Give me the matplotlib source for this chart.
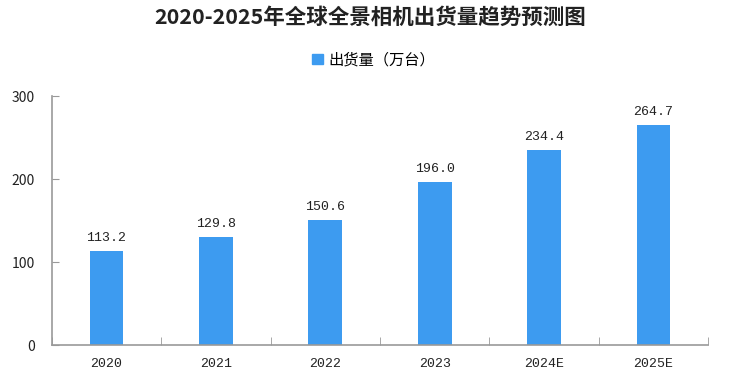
import matplotlib
matplotlib.use("Agg")
import matplotlib.pyplot as plt
from matplotlib.patches import Patch
import numpy as np

plt.rcParams['font.family'] = ['Noto Sans CJK SC', 'DejaVu Sans']

categories = ["2020", "2021", "2022", "2023", "2024E", "2025E"]
values = [113.2, 129.8, 150.6, 196.0, 234.4, 264.7]
labels = ["113.2", "129.8", "150.6", "196.0", "234.4", "264.7"]
title = "2020-2025年全球全景相机出货量趋势预测图"
series_name = "出货量（万台）"

color = "#3D9BF0"
fig = plt.figure(figsize=(7.4, 3.79), dpi=100)
ax = fig.add_axes([0.070, 0.0897, 0.887, 0.657])

x = np.arange(len(categories))
ax.bar(x, values, width=0.31, color=color, zorder=2)
for xi, v, lab in zip(x, values, labels):
    ax.text(xi, v + 9, lab, ha='center', va='bottom', fontsize=9.5,
            family=['Liberation Mono', 'DejaVu Sans'], color='#222222')

ax.set_xlim(-0.5, len(categories) - 0.5)
ax.set_ylim(0, 300)
ax.set_yticks([0, 100, 200, 300])
ax.set_xticks(x)
ax.set_xticklabels(categories, family=['Liberation Mono', 'DejaVu Sans'])
ax.set_xticks(np.arange(-0.5, len(categories)), minor=True)
ax.tick_params(axis='x', which='major', length=0, pad=9, labelsize=9.5, colors='#222222')
ax.tick_params(axis='x', which='minor', length=6, direction='in', color='#999999')
ax.tick_params(axis='y', length=5, direction='in', color='#999999', labelsize=10,
               labelcolor='#222222', pad=12)
for s in ['top', 'right']:
    ax.spines[s].set_visible(False)
for s in ['left', 'bottom']:
    ax.spines[s].set_color('#999999')
    ax.spines[s].set_linewidth(1.2)

fig.text(0.5, 0.953, title, ha='center', va='center', fontsize=15.5, fontweight='bold',
         color='#222222')
fig.legend(handles=[Patch(color=color, label=series_name)], loc='center',
           bbox_to_anchor=(0.505, 0.842), frameon=False, fontsize=11,
           handlelength=0.7, handleheight=0.7, handletextpad=0.4)

fig.savefig("out.png", dpi=100)
